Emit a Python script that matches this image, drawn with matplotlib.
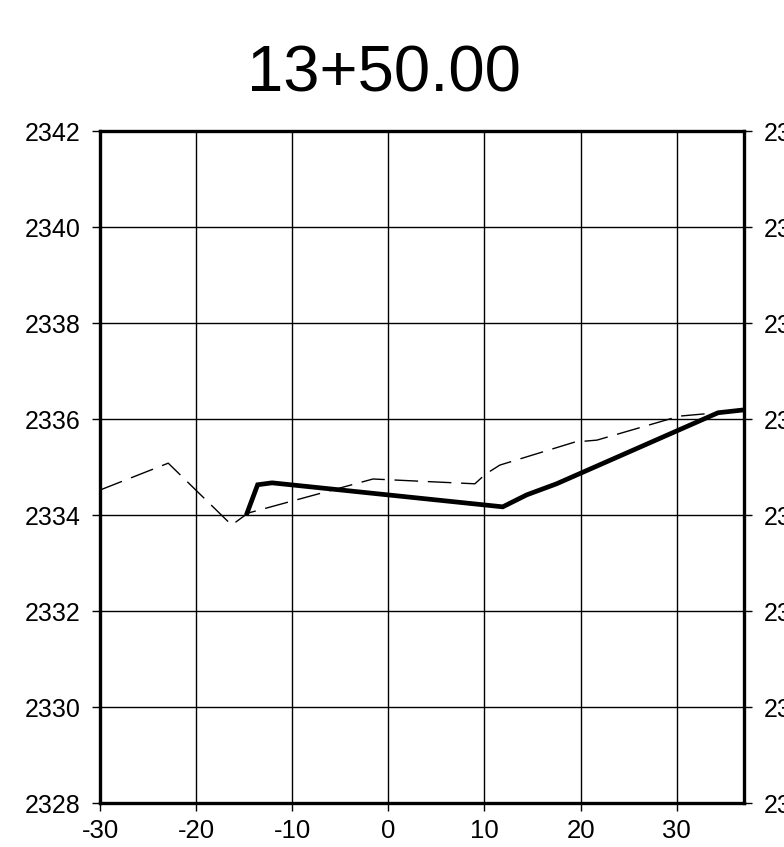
import matplotlib.pyplot as plt
from matplotlib.ticker import MultipleLocator

# %% data read off the section
station = "13+50.00"

ground_x = [-30.0, -22.9, -16.3, -14.6, -1.6, 9.0, 10.1, 11.6, 19.4, 21.7, 30.3, 37.0]
ground_y = [2334.52, 2335.08, 2333.79, 2334.04, 2334.75, 2334.65, 2334.85,
            2335.04, 2335.52, 2335.56, 2336.06, 2336.18]

design_x = [-14.7, -13.6, -12.1, 11.9, 14.4, 17.5, 34.3, 37.0]
design_y = [2334.04, 2334.63, 2334.67, 2334.17, 2334.42, 2334.65, 2336.13, 2336.19]

# %% figure
plt.rcParams['font.family'] = ['Liberation Sans', 'DejaVu Sans']
plt.rcParams['axes.unicode_minus'] = False

fig = plt.figure(figsize=(7.84, 8.47), dpi=100)
ax = fig.add_axes([100 / 784, 44 / 847, 644 / 784, 672 / 847])

ax.plot(ground_x, ground_y, color='black', lw=1.0, dashes=(17, 7), zorder=3)
ax.plot(design_x, design_y, color='black', lw=3.4, solid_joinstyle='miter', zorder=4)

ax.set_xlim(-30, 37)
ax.set_ylim(2328, 2342)
ax.xaxis.set_major_locator(MultipleLocator(10))
ax.yaxis.set_major_locator(MultipleLocator(2))
ax.grid(True, color='black', lw=1.0)

for s in ax.spines.values():
    s.set_linewidth(2.4)
    s.set_zorder(5)

ax.tick_params(axis='y', which='major', left=True, right=True, labelright=True,
               direction='out', length=6, width=1, pad=8, labelsize=18)
ax.tick_params(axis='x', which='major', direction='out', length=6, width=1,
               pad=5.5, labelsize=18.5)

fig.text(0.49, 0.912, station, ha='center', va='center', fontsize=47)

fig.savefig('out.png', dpi=100)
